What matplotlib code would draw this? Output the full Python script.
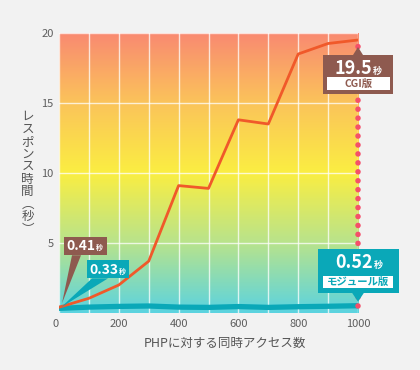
import numpy as np
import matplotlib.pyplot as plt
import matplotlib.transforms as mtransforms
from matplotlib.colors import LinearSegmentedColormap
from matplotlib.patches import Rectangle, Polygon

plt.rcParams['font.family'] = ['Noto Sans CJK JP', 'DejaVu Sans']

# data
access = [0, 100, 200, 300, 400, 500, 600, 700, 800, 900, 1000]
cgi = [0.41, 1.05, 2.0, 3.7, 9.1, 8.9, 13.8, 13.5, 18.5, 19.25, 19.5]
module = [0.33, 0.42, 0.47, 0.5, 0.42, 0.4, 0.46, 0.4, 0.45, 0.48, 0.52]
xticks = [0, 200, 400, 600, 800, 1000]
yticks = [5, 10, 15, 20]

BROWN = '#8E5A4F'
TEAL = '#0AA8B8'
ORANGE = '#F0592A'

fig = plt.figure(figsize=(4.2, 3.7), dpi=100, facecolor='#F2F2F2')
ax = fig.add_axes([59 / 420, 57 / 370, 299 / 420, 280 / 370])
ax.set_facecolor('#F2F2F2')
ax.set_xlim(0, 1000)
ax.set_ylim(0, 20)

# background gradient
cmap = LinearSegmentedColormap.from_list('bg', [
    (0.0, '#5BD3E0'), (0.25, '#B8E38C'), (0.5, '#FAEE42'),
    (0.75, '#FBC45A'), (1.0, '#F98A71')])
grad = np.linspace(0, 1, 256).reshape(-1, 1)
ax.imshow(grad, cmap=cmap, origin='lower', extent=[0, 1000, 0, 20],
          aspect='auto', zorder=0)

ax.set_xticks(np.arange(0, 1001, 100), minor=True)
ax.set_xticks(xticks)
ax.set_yticks(yticks)
ax.grid(True, which='both', color='white', lw=1, alpha=0.75, zorder=1)
for s in ax.spines.values():
    s.set_visible(False)
ax.tick_params(which='both', length=0, labelsize=8, labelcolor='#5E5E5E', pad=4)
ax.get_xticklabels()[0].set_horizontalalignment('right')

ax.set_xlabel('PHPに対する同時アクセス数', fontsize=9, color='#555555')
ax.xaxis.set_label_coords(0.555, -0.085)
ax.text(-0.105, 0.5, '\n'.join('レスポンス時間︵秒︶'), transform=ax.transAxes,
        ha='center', va='center', fontsize=9, color='#555555', linespacing=0.95)

# lines
ax.plot(access, module, color=TEAL, lw=3.8, zorder=3, solid_capstyle='butt')
ax.plot(access, cgi, color=ORANGE, lw=2, zorder=4)
ax.plot([access[-1], access[-1]], [module[-1], cgi[-1]], color='#F5506A',
        lw=4, linestyle=(0, (0.01, 1.6)), dash_capstyle='round',
        zorder=5, clip_on=False)


def px(x, y):
    # pixel offsets from a data point
    return (mtransforms.Affine2D().scale(fig.dpi / 100)
            + mtransforms.ScaledTranslation(x, y, ax.transData))


def callout(x, y, box, tri, num, unit, num_xy, fs, color, sub=None):
    t = px(x, y)
    ax.add_patch(Polygon(tri, closed=True, color=color, transform=t,
                         clip_on=False, zorder=6, lw=0))
    ax.add_patch(Rectangle(box[0], box[1], box[2], color=color, transform=t,
                           clip_on=False, zorder=6, lw=0))
    ax.text(num_xy[0], num_xy[1], num, transform=t, ha='right', va='baseline',
            fontsize=fs, color='white', fontweight='bold', zorder=7)
    ax.text(num_xy[0] + 1, num_xy[1], unit, transform=t, ha='left', va='baseline',
            fontsize=fs * 0.5, color='white', fontweight='bold', zorder=7)
    if sub:
        (sx, sy), sw, sh, label = sub
        ax.add_patch(Rectangle((sx, sy), sw, sh, color='white', transform=t,
                               clip_on=False, zorder=7, lw=0))
        ax.text(sx + sw / 2, sy + sh / 2, label, transform=t, ha='center',
                va='center', fontsize=7.5, color=color, fontweight='bold', zorder=8)


callout(access[-1], cgi[-1], ((-35, -54), 70, 39), [(0, -7), (-5, -15), (5, -15)],
        f'{cgi[-1]}', '秒', (14, -34), 13, BROWN,
        sub=((-31, -50), 63, 13, 'CGI版'))
callout(access[-1], module[-1], ((-40, 13), 81, 44), [(0, 4), (-6, 13), (6, 13)],
        f'{module[-1]}', '秒', (15, 38), 13, TEAL,
        sub=((-35, 18), 70, 12, 'モジュール版'))
callout(access[0], cgi[0], ((5, 52), 43, 18), [(3, 4), (13, 52), (22, 52)],
        f'{cgi[0]}', '秒', (36, 57), 10, BROWN)
callout(access[0], module[0], ((28, 30), 42, 18), [(2, 1), (33, 30), (49, 30)],
        f'{module[0]}', '秒', (59, 34), 10, TEAL)

fig.savefig('out.png', dpi=100, facecolor=fig.get_facecolor())
